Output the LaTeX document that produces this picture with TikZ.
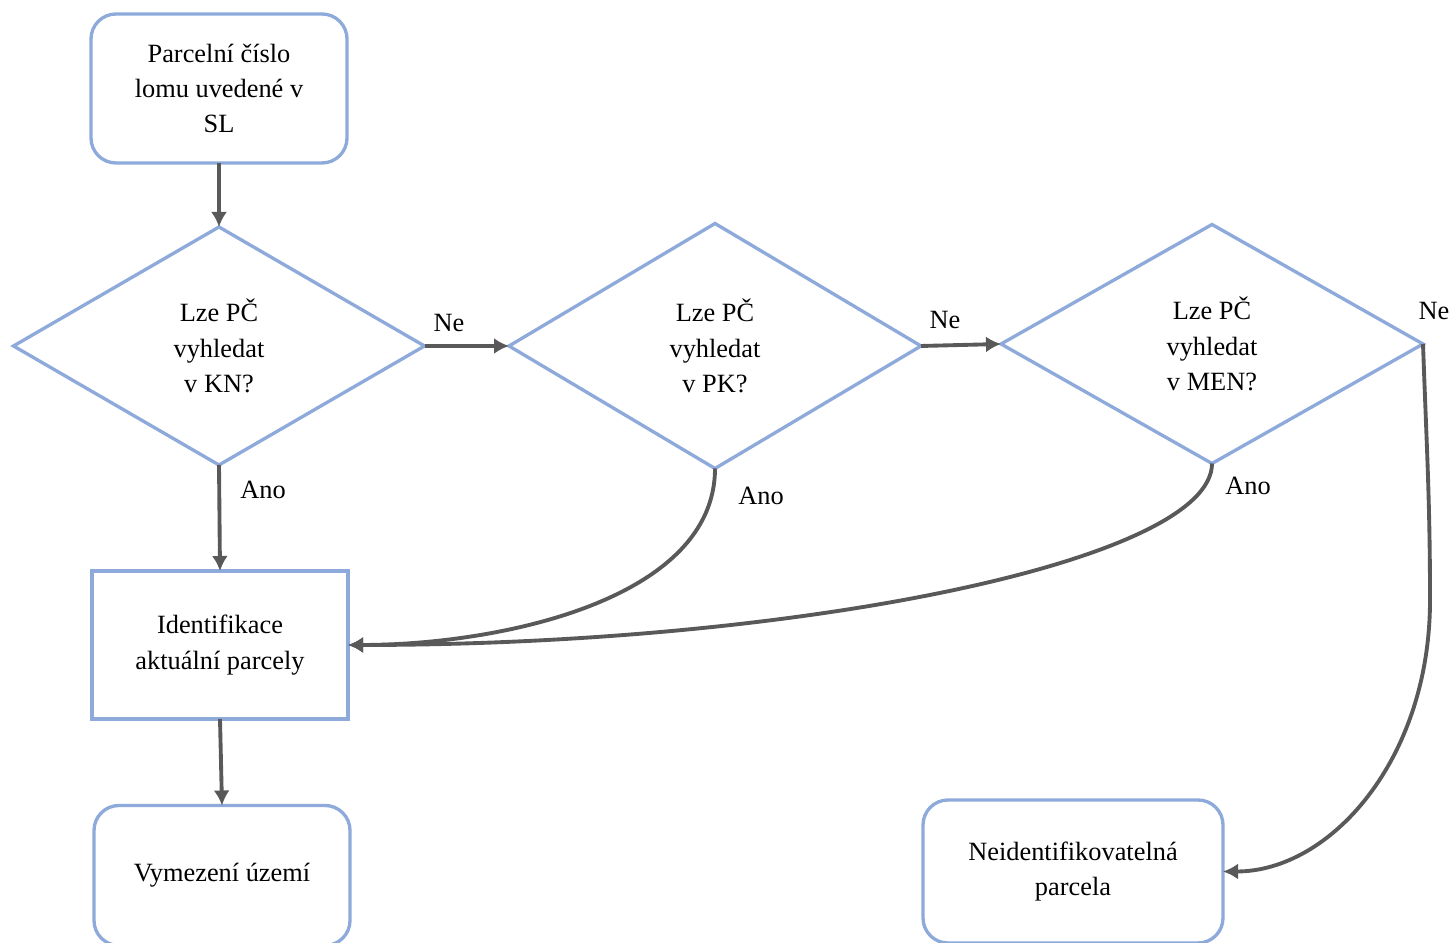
\documentclass[tikz,border=0pt]{standalone}
\usepackage{fontspec}
\setmainfont{Liberation Serif}
\usetikzlibrary{shapes.geometric,arrows.meta}

\definecolor{boxblue}{RGB}{142,170,219}
\definecolor{flowgray}{RGB}{89,89,89}

\begin{document}
\begin{tikzpicture}[>={Latex[length=3mm,width=3.2mm]},
    font=\fontsize{15}{20}\selectfont,
    box/.style={draw=boxblue, line width=1.9pt, align=center,
        inner sep=0pt, outer sep=0pt,
        minimum width=5.12cm, minimum height=2.96cm},
    roundbox/.style={box, rounded corners=0.5cm},
    decision/.style={diamond, draw=boxblue, line width=1.9pt, align=center,
        inner sep=0pt, outer sep=0pt,
        minimum width=8.3cm, minimum height=4.8cm},
    flow/.style={->, draw=flowgray, line width=2.2pt}]

    % Fix size of picture
    \useasboundingbox (0,0) rectangle (29.02,18.86);

    % Draw start box
    \node[roundbox, minimum height=2.98cm] (start) at (4.38,17.09)
        {Parcelní číslo\\lomu uvedené v\\SL};

    % Draw decisions
    \node[decision, minimum width=8.22cm, minimum height=4.76cm] (kn) at (4.38,11.94)
        {Lze PČ\\vyhledat\\v KN?};
    \node[decision, minimum width=8.24cm, minimum height=4.9cm] (pk) at (14.30,11.94)
        {Lze PČ\\vyhledat\\v PK?};
    \node[decision, minimum width=8.44cm, minimum height=4.78cm] (men) at (24.24,11.98)
        {Lze PČ\\vyhledat\\v MEN?};

    % Draw result boxes
    \node[box] (ident) at (4.40,5.96) {Identifikace\\aktuální parcely};
    \node[roundbox, minimum height=2.8cm] (vymez) at (4.44,1.35) {Vymezení území};
    \node[roundbox, minimum width=6cm, minimum height=2.86cm] (neid) at (21.46,1.43)
        {Neidentifikovatelná\\parcela};

    % Draw labels
    \node (ne1) at (8.98,12.40) {Ne};
    \node (ne2) at (18.90,12.46) {Ne};
    \node (ne3) at (28.68,12.64) {Ne};
    \node (ano1) at (5.26,9.06) {Ano};
    \node (ano2) at (15.22,8.94) {Ano};
    \node (ano3) at (24.96,9.14) {Ano};

    % Draw straight connectors
    \draw[flow] (start) -- (kn);
    \draw[flow] (kn.east) -- (pk.west);
    \draw[flow] (pk.east) -- (men.west);
    \draw[flow] (kn.south) -- (ident.north);
    \draw[flow] (ident.south) -- (vymez.north);

    % Draw curved connectors
    \draw[flow] (pk.south) .. controls +(0,-2.62) and +(3.04,0) .. (ident.east);
    \draw[flow] (men.south) .. controls +(0,-1.94) and +(9.04,0) .. (ident.east);
    \coordinate (bend) at (28.60,6.86);
    \draw[flow] (men.east) to[out=-88,in=90] (bend)
                .. controls +(0,-3.2) and +(2.14,0) .. (neid.east);

\end{tikzpicture}
\end{document}
